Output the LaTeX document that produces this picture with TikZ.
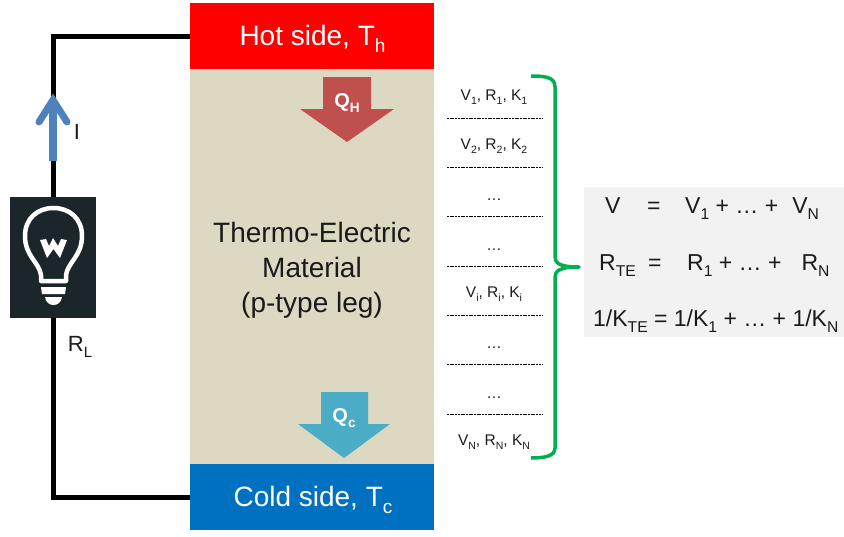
\documentclass[tikz,border=0pt]{standalone}
\usepackage{xcolor}
\usepackage{fontspec}
\setmainfont{Liberation Sans}
\definecolor{hotred}{HTML}{FF0000}
\definecolor{coldblue}{HTML}{0070C0}
\definecolor{legtan}{HTML}{DDD8C2}
\definecolor{qhred}{HTML}{C0504D}
\definecolor{qcteal}{HTML}{4BACC6}
\definecolor{bracegreen}{HTML}{00B050}
\definecolor{sumgrey}{HTML}{F2F2F2}
\definecolor{lampdark}{HTML}{1B262B}
\definecolor{currentblue}{HTML}{4F81BD}
\definecolor{inktext}{HTML}{1A1A1A}
\newcommand{\lowidx}[1]{\raisebox{-0.5ex}{\scalebox{0.68}{#1}}}
\tikzset{
  sidebox/.style={inner sep=0pt,minimum width=244pt,minimum height=66pt},
  sidetext/.style={inner sep=0pt,text=white,font=\fontsize{28}{30}\selectfont},
  wire/.style={line width=5pt,black},
  slice/.style={black,line width=0.8pt,dash pattern=on 2pt off 0.7pt},
  slicetext/.style={font=\fontsize{15.5}{16}\selectfont,text=inktext,inner sep=0pt},
  sumtext/.style={font=\fontsize{23}{24}\selectfont,text=inktext,inner sep=0pt,anchor=base west},
  heatlabel/.style={font=\bfseries\fontsize{20}{22}\selectfont,text=white,inner sep=0pt}
}
\begin{document}
\begin{tikzpicture}[x=1pt,y=-1pt]
\useasboundingbox (0,0) rectangle (844,536);
% Leg and its two sides
\node[fill=legtan,inner sep=0pt,minimum width=244pt,minimum height=395pt] (leg) at (312,266.5) {};
\node[align=center,inner sep=0pt,font=\fontsize{28}{35}\selectfont,text=inktext] (legtext) at (312,270) {Thermo-Electric\\Material\\(p-type leg)};
\node[sidebox,fill=hotred] (hot) at (312,36) {};
\node[sidetext] (hottext) at (312.5,39) {Hot side, T\lowidx{h}};
\node[sidebox,fill=coldblue] (cold) at (312,497) {};
\node[sidetext] (coldtext) at (313,500) {Cold side, T\lowidx{c}};
% Lamp
\node[fill=lampdark,inner sep=0pt,minimum width=86pt,minimum height=121pt] (lamp) at (53,257.5) {};
\draw[wire] (lamp.north) |- (hot.west);
\draw[wire] (lamp.south) |- (cold.west);
\draw[white,line width=4.5pt,line join=round] (41,281) -- (41,275) .. controls (39,262) and (25,256) .. (25,236)
  .. controls (25,218) and (38,208) .. (53.5,208) .. controls (69,208) and (82,218) .. (82,236)
  .. controls (82,256) and (68,262) .. (66,275) -- (66,281) -- cycle;
\fill[white] (40,240) -- (46,239) -- (49,246) -- (53,238) -- (58,246) -- (61,239) -- (67,240) -- (60,258) -- (53.5,249) -- (47,258) -- cycle;
\fill[white] (41,287) -- (66,287) -- (65,294) -- (42,294) -- cycle;
\fill[white] (45,297) -- (62,297) .. controls (61,303) and (57,305) .. (53.5,305) .. controls (50,305) and (46,303) .. (45,297) -- cycle;
% Current arrow
\coordinate (ifrom) at (53,161);
\coordinate (ito) at (53,100);
\draw[currentblue,line width=7.5pt] (ifrom) -- (ito);
\draw[currentblue,line width=7pt,line cap=round,miter limit=10] (ito) ++(-14,22) -- (ito) -- ++(14,22);
\node[font=\fontsize{22}{24}\selectfont,text=inktext,inner sep=0pt] (ilabel) at (77,132) {I};
\node[font=\fontsize{22}{24}\selectfont,text=inktext,inner sep=0pt] (rl) at (80,347) {R\lowidx{L}};
% Heat arrows
\fill[qhred] (323,77) -- (371,77) -- (371,109) -- (394,109) -- (347,142) -- (300,109) -- (323,109) -- cycle;
\node[heatlabel] (qh) at (347,103) {Q\lowidx{H}};
\fill[qcteal] (321,392) -- (368,392) -- (368,424) -- (390,424) -- (344,458) -- (298,424) -- (321,424) -- cycle;
\node[heatlabel] (qc) at (344,418) {Q\lowidx{c}};
% Slices
\foreach \yy in {118,167,216,266,315,364,414}
  \draw[slice] (447,\yy) -- (542,\yy);
\node[slicetext] (s1) at (494,97) {V\lowidx{1}, R\lowidx{1}, K\lowidx{1}};
\node[slicetext] (s2) at (494,146) {V\lowidx{2}, R\lowidx{2}, K\lowidx{2}};
\node[slicetext] (s3) at (494,200) {…};
\node[slicetext] (s4) at (494,250) {…};
\node[slicetext] (s5) at (494,294) {V\lowidx{i}, R\lowidx{i}, K\lowidx{i}};
\node[slicetext] (s6) at (494,348) {…};
\node[slicetext] (s7) at (494,398) {…};
\node[slicetext] (s8) at (494,442) {V\lowidx{N}, R\lowidx{N}, K\lowidx{N}};
% Sum box
\node[fill=sumgrey,inner sep=0pt,minimum width=260pt,minimum height=150pt] (sumbox) at (714,262) {};
\draw[bracegreen,line width=3.5pt,line join=round] (531,76) .. controls (545,76) and (555,77) .. (555,87)
  -- (555,256) .. controls (555,262) and (557,267) .. (579,267) .. controls (557,267) and (555,272) .. (555,278)
  -- (555,448) .. controls (555,456) and (545,458) .. (531,458);
\node[sumtext] (v) at (605,213) {V};
\node[sumtext] (veq) at (647,213) {=};
\node[sumtext] (vsum) at (685,213) {V\lowidx{1} + … +\hspace{14pt}V\lowidx{N}};
\node[sumtext] (r) at (599,270) {R\lowidx{TE}};
\node[sumtext] (req) at (648,270) {=};
\node[sumtext] (rsum) at (687,270) {R\lowidx{1} + … +\hspace{20pt}R\lowidx{N}};
\node[sumtext] (k) at (593,326) {1/K\lowidx{TE} = 1/K\lowidx{1} + … + 1/K\lowidx{N}};
\end{tikzpicture}
\end{document}
